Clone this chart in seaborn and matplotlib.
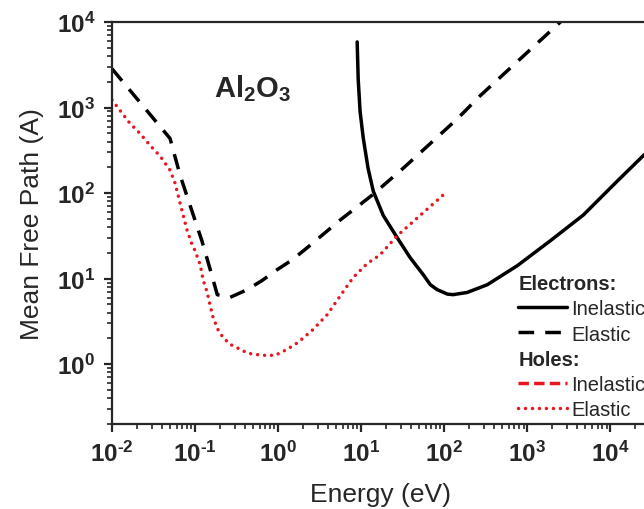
import numpy as np
import pandas as pd
import matplotlib
matplotlib.use("Agg")
import matplotlib.pyplot as plt
from matplotlib.lines import Line2D
from matplotlib.ticker import FuncFormatter
import seaborn as sns

# ---- data ----
e_inel_E = [8.95, 9.2, 9.7, 10.6, 12.1, 14, 18.4, 27.2, 39, 56, 68, 82, 109, 128, 189, 330, 760, 1890, 4730, 12100, 25000, 40000]
e_inel_y = [5850, 2170, 897, 437, 195, 105, 55, 30, 17.5, 11.1, 8.5, 7.45, 6.6, 6.5, 6.9, 8.5, 14.2, 27.7, 55.5, 138, 275, 400]

e_el_E = [0.01, 0.05, 0.066, 0.087, 0.121, 0.16, 0.185, 0.26, 0.42, 0.64, 0.97, 1.48, 2.24, 5.6, 13.6, 32, 68, 144, 272, 2500, 4000]
e_el_y = [2840, 435, 162, 72, 27.6, 10.8, 6.5, 6.0, 7.4, 9.5, 12.7, 16.6, 23, 48.5, 95, 195, 380, 740, 1380, 10000, 15000]

h_el_E = [0.01, 0.0125, 0.0165, 0.0217, 0.0287, 0.038, 0.05, 0.0574, 0.0624, 0.0697, 0.080, 0.092, 0.1, 0.115, 0.125,
          0.14, 0.152, 0.165, 0.19, 0.217, 0.264, 0.35, 0.435, 0.64, 0.92, 1.28, 1.74, 2.64, 3.9, 5.6, 8.0, 11.8,
          16.9, 27, 109]
h_el_y = [1230, 923, 651, 499, 362, 270, 185, 131, 95, 62, 37, 25, 21.2, 14.6, 9.7,
          6.9, 4.85, 3.5, 2.5, 2.06, 1.71, 1.49, 1.34, 1.27, 1.27, 1.49, 1.8, 2.55, 3.8, 6.3, 10.3, 15,
          19, 31.6, 105]

x_label = "Energy (eV)"
y_label = "Mean Free Path (A)"
material = r"Al$_\mathbf{2}$O$_\mathbf{3}$"
legend_groups = ["Electrons:", "Holes:"]
legend_labels = ["Inelastic", "Elastic"]

RED = "#e8161e"

sns.set_style("ticks")
plt.rcParams["font.family"] = ["Liberation Sans", "DejaVu Sans"]
plt.rcParams["mathtext.fontset"] = "custom"
plt.rcParams["mathtext.rm"] = "Liberation Sans:bold"
plt.rcParams["mathtext.bf"] = "Liberation Sans:bold"
plt.rcParams["mathtext.it"] = "Liberation Sans:bold"

fig = plt.figure(figsize=(6.44, 5.10), dpi=100)
ax = fig.add_axes([112 / 644, 85 / 510, 538 / 644, 402 / 510])

lw = 2.5
DASH = (0, (4.5, 3.2))
DOT = (0, (0.01, 2.0))
sns.lineplot(x=e_inel_E, y=e_inel_y, ax=ax, color="black", lw=lw, estimator=None, sort=False)
sns.lineplot(x=e_el_E, y=e_el_y, ax=ax, color="black", lw=lw, estimator=None, sort=False,
             linestyle=DASH)
sns.lineplot(x=h_el_E, y=h_el_y, ax=ax, color=RED, lw=lw, estimator=None, sort=False,
             linestyle=DOT, dash_capstyle="round")

ax.set_xscale("log")
ax.set_yscale("log")
ax.set_xlim(1e-2, 3e4)
ax.set_ylim(0.2, 1e4)


def fmt(v, pos):
    e = int(round(np.log10(v)))
    if e < 0:
        return r"$\mathbf{10^{\text{-}%d}}$" % (-e)
    return r"$\mathbf{10^{%d}}$" % e


ax.xaxis.set_major_formatter(FuncFormatter(fmt))
ax.yaxis.set_major_formatter(FuncFormatter(fmt))

ax.set_xlabel(x_label, fontsize=19, labelpad=11.5)
ax.set_ylabel(y_label, fontsize=19, labelpad=9)

for s in ["left", "bottom", "top", "right"]:
    ax.spines[s].set_linewidth(1.6)
    ax.spines[s].set_visible(True)

ax.tick_params(axis="both", which="major", direction="out", length=6, width=1.6,
               labelsize=17.5, pad=6, top=False, right=False)
ax.tick_params(axis="both", which="minor", direction="out", length=3.5, width=1.2,
               top=False, right=False)

ax.text(0.19, 0.838, material, transform=ax.transAxes, fontsize=21, fontweight="bold",
        ha="left", va="center")

# legends
h1 = [Line2D([], [], color="black", lw=lw),
      Line2D([], [], color="black", lw=lw, linestyle=DASH)]
h2 = [Line2D([], [], color=RED, lw=lw, linestyle=(0, (3.0, 1.5))),
      Line2D([], [], color=RED, lw=lw, linestyle=DOT, dash_capstyle="round")]

common = dict(loc="upper left", frameon=False, fontsize=14.5, handlelength=2.4,
              handletextpad=0.25, labelspacing=0.3, borderpad=0, borderaxespad=0,
              alignment="left", title_fontproperties={"weight": "bold", "size": 14.5})
leg1 = ax.legend(h1, legend_labels, title=legend_groups[0],
                 bbox_to_anchor=(0.755, 0.372), **common)
ax.add_artist(leg1)
leg2 = ax.legend(h2, legend_labels, title=legend_groups[1],
                 bbox_to_anchor=(0.755, 0.184), **common)

fig.savefig("out.png", dpi=100)
